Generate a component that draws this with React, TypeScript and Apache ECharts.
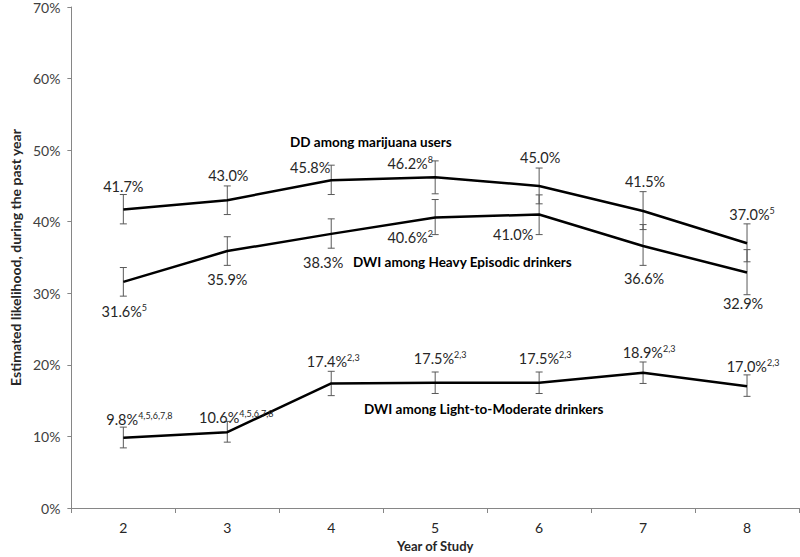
import React, { useEffect, useRef } from "react";
import * as echarts from "echarts";

const years = ["2", "3", "4", "5", "6", "7", "8"];
const yTicks = [0, 10, 20, 30, 40, 50, 60, 70];

const ddValues = [41.7, 43.0, 45.8, 46.2, 45.0, 41.5, 37.0];
const ddLow = [39.7, 41.0, 43.8, 43.9, 42.5, 38.9, 34.4];
const ddHigh = [43.8, 45.0, 47.9, 48.5, 47.5, 44.2, 39.7];
const ddSup = ["", "", "", "8", "", "", "5"];

const heavyValues = [31.6, 35.9, 38.3, 40.6, 41.0, 36.6, 32.9];
const heavyLow = [29.6, 33.9, 36.3, 38.2, 38.2, 33.9, 29.8];
const heavyHigh = [33.6, 37.9, 40.4, 43.1, 43.75, 39.6, 36.1];
const heavySup = ["5", "", "", "2", "", "", ""];

const lightValues = [9.8, 10.6, 17.4, 17.5, 17.5, 18.9, 17.0];
const lightLow = [8.4, 9.2, 15.7, 16.0, 16.0, 17.4, 15.6];
const lightHigh = [11.3, 12.1, 19.1, 19.0, 19.0, 20.4, 18.6];
const lightSup = ["4,5,6,7,8", "4,5,6,7,8", "2,3", "2,3", "2,3", "2,3", "2,3"];

const seriesNames = [
  "DD among marijuana users",
  "DWI among Heavy Episodic drinkers",
  "DWI among Light-to-Moderate drinkers",
];

// label layout (pixel offsets from the point)
const ddOffsets = [[0, -23], [1, -25], [-21, -13], [-25, -14], [1, -28], [2, -29], [5, -29]];
const heavyOffsets = [[1, 30], [0, 28], [-8, 29], [-25, 20], [-26, 20], [1, 32], [-4, 31]];
const lightOffsets = [[16, -18], [9, -15], [2, -22], [5, -24], [6, -24], [6, -20], [6, -20]];

const FONT = "Lato, 'Open Sans', sans-serif";

function lineSeries(name: string, values: number[], sups: string[], offsets: number[][]) {
  return {
    type: "line",
    name,
    data: values.map((v, i) => ({
      value: v,
      label: { offset: offsets[i] },
    })),
    symbol: "circle",
    symbolSize: 1,
    itemStyle: { color: "rgba(0,0,0,0)" },
    lineStyle: { color: "#000", width: 2.5 },
    z: 3,
    label: {
      show: true,
      position: "inside",
      formatter: (p: any) => {
        const s = sups[p.dataIndex];
        return "{v|" + p.value.toFixed(1) + "%}" + (s ? "{s|" + s + "}" : "");
      },
      rich: {
        v: { fontFamily: FONT, fontSize: 14.5, color: "#262626", lineHeight: 17 },
        s: { fontFamily: FONT, fontSize: 9, color: "#262626", verticalAlign: "top", lineHeight: 10 },
      },
    },
  };
}

function errSeries(low: number[], high: number[]) {
  return {
    type: "custom",
    data: low.map((l, i) => [i, l, high[i]]),
    encode: { x: 0, y: [1, 2] },
    z: 2,
    silent: true,
    renderItem: (params: any, api: any) => {
      const i = api.value(0);
      const lo = api.coord([i, api.value(1)]);
      const hi = api.coord([i, api.value(2)]);
      const w = 3.5;
      const style = { stroke: "#595959", lineWidth: 1 };
      return {
        type: "group",
        children: [
          { type: "line", shape: { x1: lo[0], y1: lo[1], x2: hi[0], y2: hi[1] }, style },
          { type: "line", shape: { x1: lo[0] - w, y1: lo[1], x2: lo[0] + w, y2: lo[1] }, style },
          { type: "line", shape: { x1: hi[0] - w, y1: hi[1], x2: hi[0] + w, y2: hi[1] }, style },
        ],
      };
    },
  };
}

export default function App() {
  const ref = useRef<HTMLDivElement>(null);
  useEffect(() => {
    if (!ref.current) return;
    const chart = echarts.init(ref.current, null, { renderer: "svg" });
    const annStyle = (text: string) => ({
      text,
      font: "bold 13.5px " + FONT,
      fill: "#000",
      textAlign: "left",
      textVerticalAlign: "middle",
    });
    chart.setOption({
      animation: false,
      backgroundColor: "#fff",
      grid: { left: 57, right: 1, top: 5, bottom: 48 },
      xAxis: {
        type: "category",
        data: years,
        boundaryGap: true,
        name: "Year of Study",
        nameLocation: "middle",
        nameGap: 31,
        nameTextStyle: { fontFamily: FONT, fontWeight: "bold", fontSize: 13, color: "#262626" },
        axisLine: { lineStyle: { color: "#868686", width: 1 } },
        axisTick: { show: true, length: 5, lineStyle: { color: "#868686" } },
        axisLabel: { fontFamily: FONT, fontSize: 14, color: "#262626", margin: 12 },
      },
      yAxis: {
        type: "value",
        min: yTicks[0],
        max: yTicks[yTicks.length - 1],
        interval: 10,
        name: "Estimated likelihood, during the past year",
        nameLocation: "middle",
        nameGap: 41,
        nameTextStyle: { fontFamily: FONT, fontWeight: "bold", fontSize: 14, color: "#262626" },
        axisLine: { show: true, lineStyle: { color: "#868686", width: 1 } },
        axisTick: { show: true, length: 4, lineStyle: { color: "#868686" } },
        splitLine: { show: false },
        axisLabel: {
          fontFamily: FONT,
          fontSize: 14,
          color: "#404040",
          margin: 11,
          formatter: (v: number) => v + "%",
        },
      },
      graphic: [
        { type: "text", x: 290, y: 142, style: annStyle(seriesNames[0]) },
        { type: "text", x: 353, y: 262, style: annStyle(seriesNames[1]) },
        { type: "text", x: 364, y: 409, style: annStyle(seriesNames[2]) },
      ],
      series: [
        errSeries(ddLow, ddHigh),
        errSeries(heavyLow, heavyHigh),
        errSeries(lightLow, lightHigh),
        lineSeries(seriesNames[0], ddValues, ddSup, ddOffsets),
        lineSeries(seriesNames[1], heavyValues, heavySup, heavyOffsets),
        lineSeries(seriesNames[2], lightValues, lightSup, lightOffsets),
      ],
    });
    return () => chart.dispose();
  }, []);
  return <div ref={ref} style={{ width: 800, height: 557, position: "absolute", left: 0, top: 0 }} />;
}
